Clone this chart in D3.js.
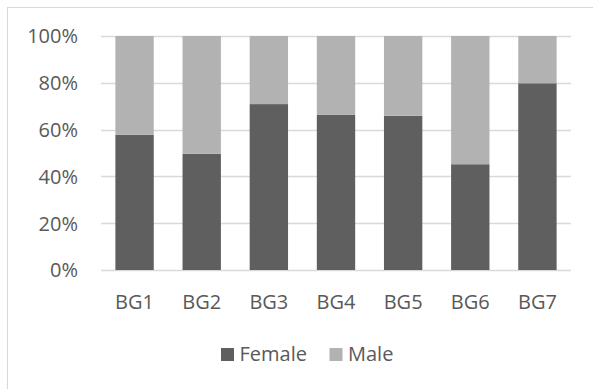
<!DOCTYPE html>
<html>
<head>
<meta charset="utf-8">
<script src="https://cdn.jsdelivr.net/npm/d3@7"></script>
<style>
  html, body { margin: 0; padding: 0; background: #fff; }
  svg { display: block; }
  text { font-family: "Open Sans", sans-serif; fill: #595959; }
</style>
</head>
<body>
<svg id="chart" width="593" height="389"></svg>
<script>
// Share of each group by gender (percent)
const categories = ["BG1", "BG2", "BG3", "BG4", "BG5", "BG6", "BG7"];
const female = [57.8, 49.7, 70.9, 66.4, 65.9, 45.2, 79.8];
const male = female.map(v => 100 - v);
const seriesNames = ["Female", "Male"];
const seriesColors = ["#5f5f5f", "#b2b2b2"];
const yTicks = [0, 20, 40, 60, 80, 100];

const svg = d3.select("#chart");
const W = 593, H = 389;

// outer chart frame
svg.append("rect")
  .attr("x", 7.5).attr("y", 7.5)
  .attr("width", W + 20).attr("height", H + 20)
  .attr("fill", "none").attr("stroke", "#d9d9d9").attr("stroke-width", 1);

const plot = { left: 101, right: 571, top: 36, bottom: 270 };

const x = d3.scaleBand()
  .domain(categories)
  .range([plot.left, plot.right])
  .paddingInner(0.75 / 1.75)
  .paddingOuter(0.75 / 3.5);

const y = d3.scaleLinear().domain([0, 100]).range([plot.bottom, plot.top]);

// gridlines
svg.append("g")
  .selectAll("line")
  .data(yTicks)
  .join("line")
  .attr("x1", plot.left).attr("x2", plot.right)
  .attr("y1", d => Math.round(y(d)) + 0.5).attr("y2", d => Math.round(y(d)) + 0.5)
  .attr("stroke", "#d9d9d9").attr("stroke-width", 1.3);

// y axis labels
const yAxis = d3.axisLeft(y).tickValues(yTicks).tickFormat(d => d + "%").tickSize(0).tickPadding(0);
const gy = svg.append("g").attr("transform", `translate(${plot.left - 23},0)`).call(yAxis);
gy.select(".domain").remove();
gy.selectAll("text").attr("font-size", 20).attr("fill", "#595959")
  .attr("font-family", "'Open Sans', sans-serif").attr("dy", "0.34em");

// stacked bars
const rows = categories.map((c, i) => ({ cat: c, Female: female[i], Male: male[i] }));
const stack = d3.stack().keys(seriesNames)(rows);

svg.append("g")
  .selectAll("g")
  .data(stack)
  .join("g")
  .attr("fill", (d, i) => seriesColors[i])
  .selectAll("rect")
  .data(d => d)
  .join("rect")
  .attr("x", d => x(d.data.cat))
  .attr("width", x.bandwidth())
  .attr("y", d => y(d[1]))
  .attr("height", d => y(d[0]) - y(d[1]));

// x axis labels
const xAxis = d3.axisBottom(x).tickSize(0).tickPadding(0);
const gx = svg.append("g").attr("transform", `translate(0,${plot.bottom + 32})`).call(xAxis);
gx.select(".domain").remove();
gx.selectAll("text").attr("font-size", 20).attr("fill", "#595959")
  .attr("font-family", "'Open Sans', sans-serif").attr("dy", "0.34em");

// legend
const legendItems = [
  { name: seriesNames[0], color: seriesColors[0], x: 221 },
  { name: seriesNames[1], color: seriesColors[1], x: 329.5 }
];
const lg = svg.append("g");
legendItems.forEach(it => {
  lg.append("rect")
    .attr("x", it.x).attr("y", 348)
    .attr("width", 13).attr("height", 13)
    .attr("fill", it.color);
  lg.append("text")
    .attr("x", it.x + 18.5).attr("y", 354.5)
    .attr("dy", "0.34em")
    .attr("font-size", 20)
    .text(it.name);
});
</script>
</body>
</html>
